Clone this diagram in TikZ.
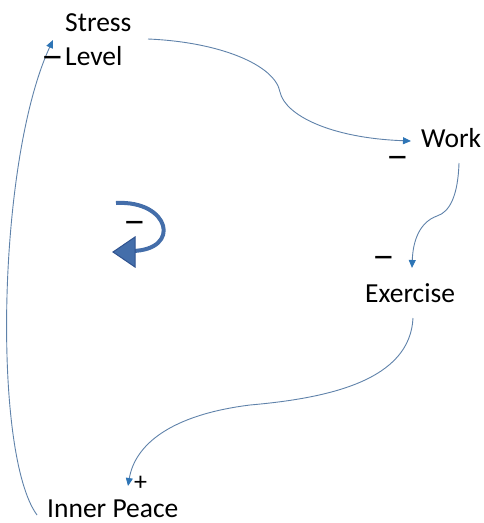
\documentclass[tikz,border=0pt]{standalone}
\usepackage{fontspec}
\usepackage{graphicx}
\setmainfont{Carlito}
\usetikzlibrary{arrows.meta}
\definecolor{linkc}{RGB}{95,130,170}
\definecolor{tipc}{RGB}{46,117,182}
\definecolor{loopc}{RGB}{68,110,170}
\definecolor{loopd}{RGB}{47,82,143}
\newcommand{\negsign}{\scalebox{1.75}[1.5]{–}}
\begin{document}
\begin{tikzpicture}[x=1pt,y=-1pt,
  lbl/.style={font=\fontsize{27.5}{34}\selectfont, inner sep=0pt, text=black},
  sgn/.style={font=\fontsize{26}{34}\selectfont, inner sep=0pt, anchor=base},
  link/.style={draw=linkc, line width=0.9pt, -{Triangle[length=8pt,width=7pt,color=tipc]}}]
\useasboundingbox (0,0) rectangle (484,523);
% variables
\node[lbl, align=left, anchor=north west] (stress) at (65,13) {Stress\\Level};
\node[lbl, anchor=base west] (work) at (421,147) {Work};
\node[lbl, anchor=base west] (exercise) at (365,302) {Exercise};
\node[lbl, anchor=base west] (inner) at (47,517) {Inner Peace};
% connector end points
\coordinate (sOut) at (148,39);
\coordinate (sBend) at (280,92);
\coordinate (wIn) at (411,141);
\coordinate (wOut) at (459,163);
\coordinate (wBend) at (437,216);
\coordinate (eIn) at (412,268);
\coordinate (eOut) at (413,318);
\coordinate (eBend) at (250,405);
\coordinate (iIn) at (128,486);
\coordinate (iOut) at (37,515);
\coordinate (sIn) at (53,40);
% connectors
\draw[link] (sOut) .. controls (220,42) and (275,65) .. (sBend) .. controls (285,115) and (330,138) .. (wIn);
\draw[link] (wOut) .. controls (458,195) and (450,212) .. (wBend) .. controls (420,222) and (413,240) .. (eIn);
\draw[link] (eOut) .. controls (410,380) and (330,398) .. (eBend) .. controls (170,415) and (135,445) .. (iIn);
\draw[link] (iOut) .. controls (-7.6,454) and (-3,161) .. (sIn);
% polarity signs
\node[sgn] (m1) at (53,68.5) {\negsign};
\node[sgn] (m2) at (398,168.5) {\negsign};
\node[sgn] (m3) at (384,268.5) {\negsign};
\node[sgn, anchor=base west] (p1) at (134,490) {+};
% loop symbol
\draw[loopc, line width=4pt] (116,203) .. controls (170,200) and (182,250) .. (132,251);
\filldraw[fill=loopc, draw=loopd, line width=1pt] (113,252) -- (135,237) -- (135,267) -- cycle;
\node[sgn] (m4) at (135,233.5) {\negsign};
\end{tikzpicture}
\end{document}
